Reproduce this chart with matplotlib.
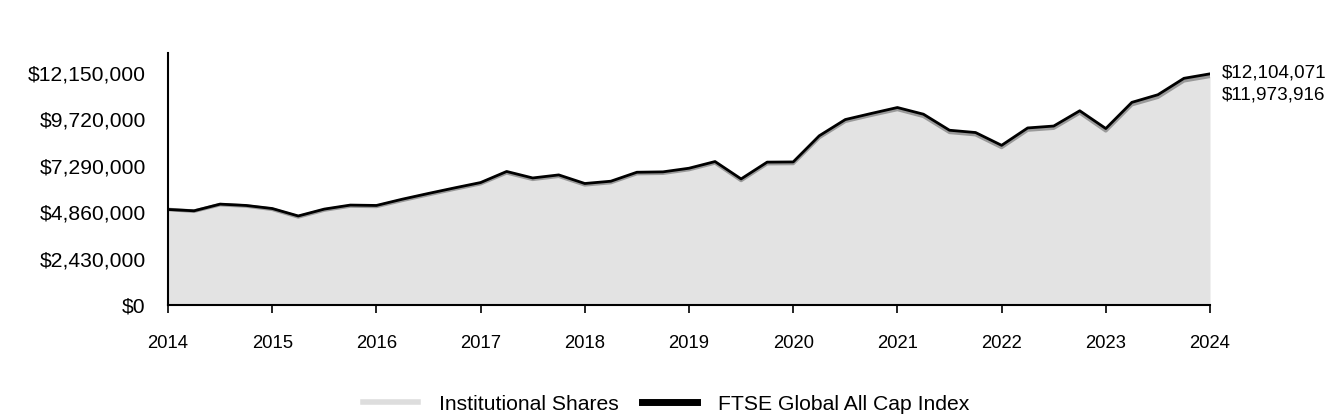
import matplotlib
matplotlib.use("Agg")
import matplotlib.pyplot as plt
import numpy as np
from matplotlib.lines import Line2D

plt.rcParams['font.family'] = ['Liberation Sans', 'DejaVu Sans']

quarters = np.arange(41) / 4.0 + 2014
index_vals = [5000000, 4930000, 5280000, 5210000, 5050000, 4660000, 5020000, 5230000,
              5210000, 5540000, 5840000, 6130000, 6410000, 6990000, 6650000, 6810000,
              6360000, 6480000, 6950000, 6970000, 7160000, 7510000, 6600000, 7480000,
              7490000, 8860000, 9710000, 10030000, 10340000, 9990000, 9150000, 9030000,
              8360000, 9270000, 9370000, 10170000, 9240000, 10610000, 11010000, 11870000,
              12104071]
inst_vals = [5000000, 4910000, 5250000, 5180000, 5010000, 4610000, 4970000, 5180000,
             5160000, 5480000, 5780000, 6070000, 6350000, 6920000, 6580000, 6740000,
             6290000, 6410000, 6880000, 6900000, 7090000, 7440000, 6520000, 7400000,
             7410000, 8770000, 9620000, 9940000, 10240000, 9880000, 9040000, 8920000,
             8250000, 9160000, 9260000, 10060000, 9120000, 10490000, 10880000, 11740000,
             11973916]
yticks = [0, 2430000, 4860000, 7290000, 9720000, 12150000]
years = list(range(2014, 2025))

fig = plt.figure(figsize=(13.44, 4.2), dpi=100)
ax = fig.add_axes([0.125, 0.274, 0.7753, 0.6])

ax.fill_between(quarters, inst_vals, 0, color='#e3e3e3', linewidth=0, zorder=1)
ax.plot(quarters, inst_vals, color='#9a9a9a', linewidth=2.6, zorder=2)
ax.plot(quarters, index_vals, color='black', linewidth=2.0, zorder=3)

ax.set_xlim(2014, 2024)
ax.set_ylim(0, 13200000)
ax.set_yticks(yticks)
ax.set_yticklabels(['${:,}'.format(v) for v in yticks], fontsize=15.2)
ax.set_xticks(years)
ax.set_xticklabels([str(y) for y in years], fontsize=13.3)
ax.tick_params(axis='y', length=0, pad=16)
ax.tick_params(axis='x', length=6, width=1.2, pad=16, direction='out')
for s in ['top', 'right']:
    ax.spines[s].set_visible(False)
ax.spines['left'].set_linewidth(1.5)
ax.spines['bottom'].set_linewidth(1.5)

ax.annotate('${:,}'.format(index_vals[-1]), xy=(1.0, index_vals[-1]),
            xycoords=('axes fraction', 'data'), xytext=(8.5, 0.5), textcoords='offset points',
            fontsize=13.6, va='center', ha='left', annotation_clip=False)
ax.annotate('${:,}'.format(inst_vals[-1]), xy=(1.0, index_vals[-1]),
            xycoords=('axes fraction', 'data'), xytext=(8.5, -15.5), textcoords='offset points',
            fontsize=13.6, va='center', ha='left', annotation_clip=False)

handles = [Line2D([], [], color='#dddddd', linewidth=4),
           Line2D([], [], color='black', linewidth=5)]
fig.legend(handles, ['Institutional Shares', 'FTSE Global All Cap Index'],
           loc='center', bbox_to_anchor=(0.496, 0.038), ncol=2, frameon=False,
           fontsize=15.2, handlelength=2.6, columnspacing=1.1, handletextpad=1.0)

fig.savefig('out.png', dpi=100)
